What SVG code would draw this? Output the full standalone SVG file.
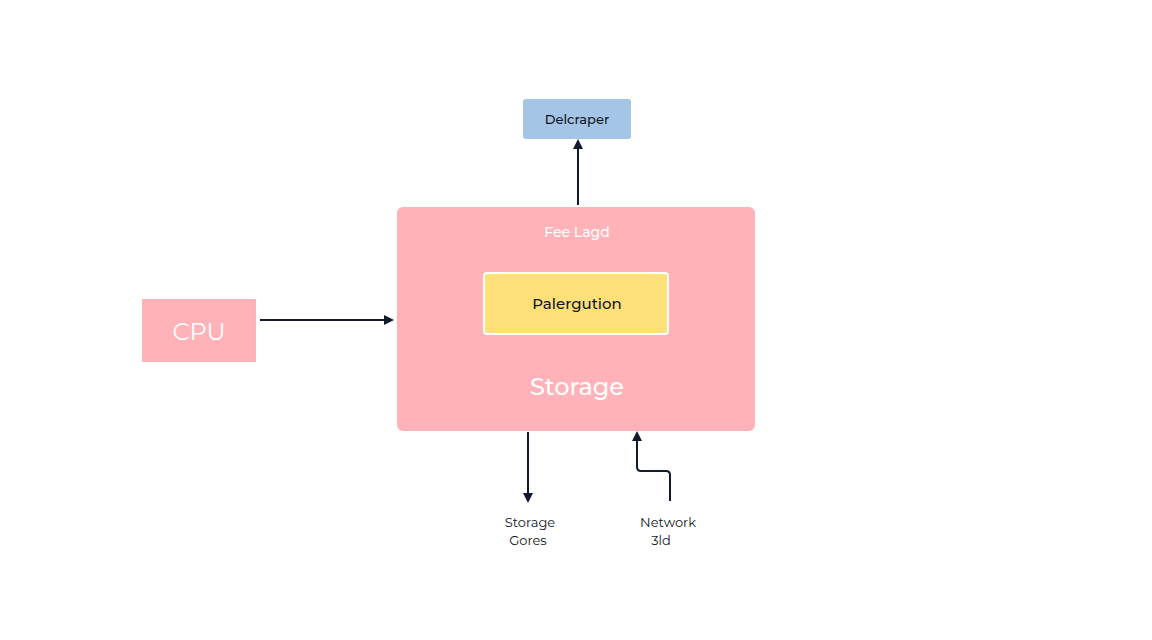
<svg xmlns="http://www.w3.org/2000/svg" width="1152" height="640" viewBox="0 0 1152 640">
<style>
.t{font-family:"Montserrat","Noto Sans","Liberation Sans",sans-serif;text-anchor:middle;dominant-baseline:central}
.dark{fill:#111522}
.white{fill:#ffffff}
.pink{fill:#ffb3b8}
.conn{stroke:#141a2e;stroke-width:2;fill:none}
</style>
<defs>
<marker id="ah" markerWidth="10" markerHeight="10" refX="8" refY="5" orient="auto" markerUnits="userSpaceOnUse">
<path d="M0,0 L10,5 L0,10 Z" fill="#141a2e"/>
</marker>
</defs>
<rect width="1152" height="640" fill="#ffffff"/>
<g id="delcraper">
<rect x="523" y="99" width="108" height="40" rx="3" fill="#a5c5e6"/>
<text class="t dark" x="577" y="119" font-size="13" font-weight="500">Delcraper</text>
</g>
<g id="storage">
<rect class="pink" x="397" y="207" width="358" height="224" rx="6"/>
<text class="t white" x="577" y="232" font-size="14" font-weight="500">Fee Lagd</text>
<text class="t white" x="577" y="386" font-size="24" font-weight="500">Storage</text>
</g>
<g id="palergution">
<rect x="484" y="273" width="184" height="61" rx="3" fill="#fde178" stroke="#ffffff" stroke-width="2"/>
<text class="t dark" x="577" y="303" font-size="15" font-weight="500">Palergution</text>
</g>
<g id="cpu">
<rect class="pink" x="142" y="299" width="114" height="63"/>
<text class="t white" x="199" y="331" font-size="24">CPU</text>
</g>
<g id="storage-gores">
<text class="t dark" x="530" y="522" font-size="13">Storage</text>
<text class="t dark" x="528" y="540" font-size="13">Gores</text>
</g>
<g id="network">
<text class="t dark" x="668" y="522" font-size="13">Network</text>
<text class="t dark" x="661" y="540" font-size="13">3ld</text>
</g>
<g id="connectors">
<line class="conn" x1="578" y1="205" x2="578" y2="141" marker-end="url(#ah)"/>
<line class="conn" x1="260" y1="320" x2="392" y2="320" marker-end="url(#ah)"/>
<line class="conn" x1="528" y1="432" x2="528" y2="501" marker-end="url(#ah)"/>
<path class="conn" d="M670,501 L670,475 Q670,471 666,471 L641,471 Q637,471 637,467 L637,433" marker-end="url(#ah)"/>
</g>
</svg>
